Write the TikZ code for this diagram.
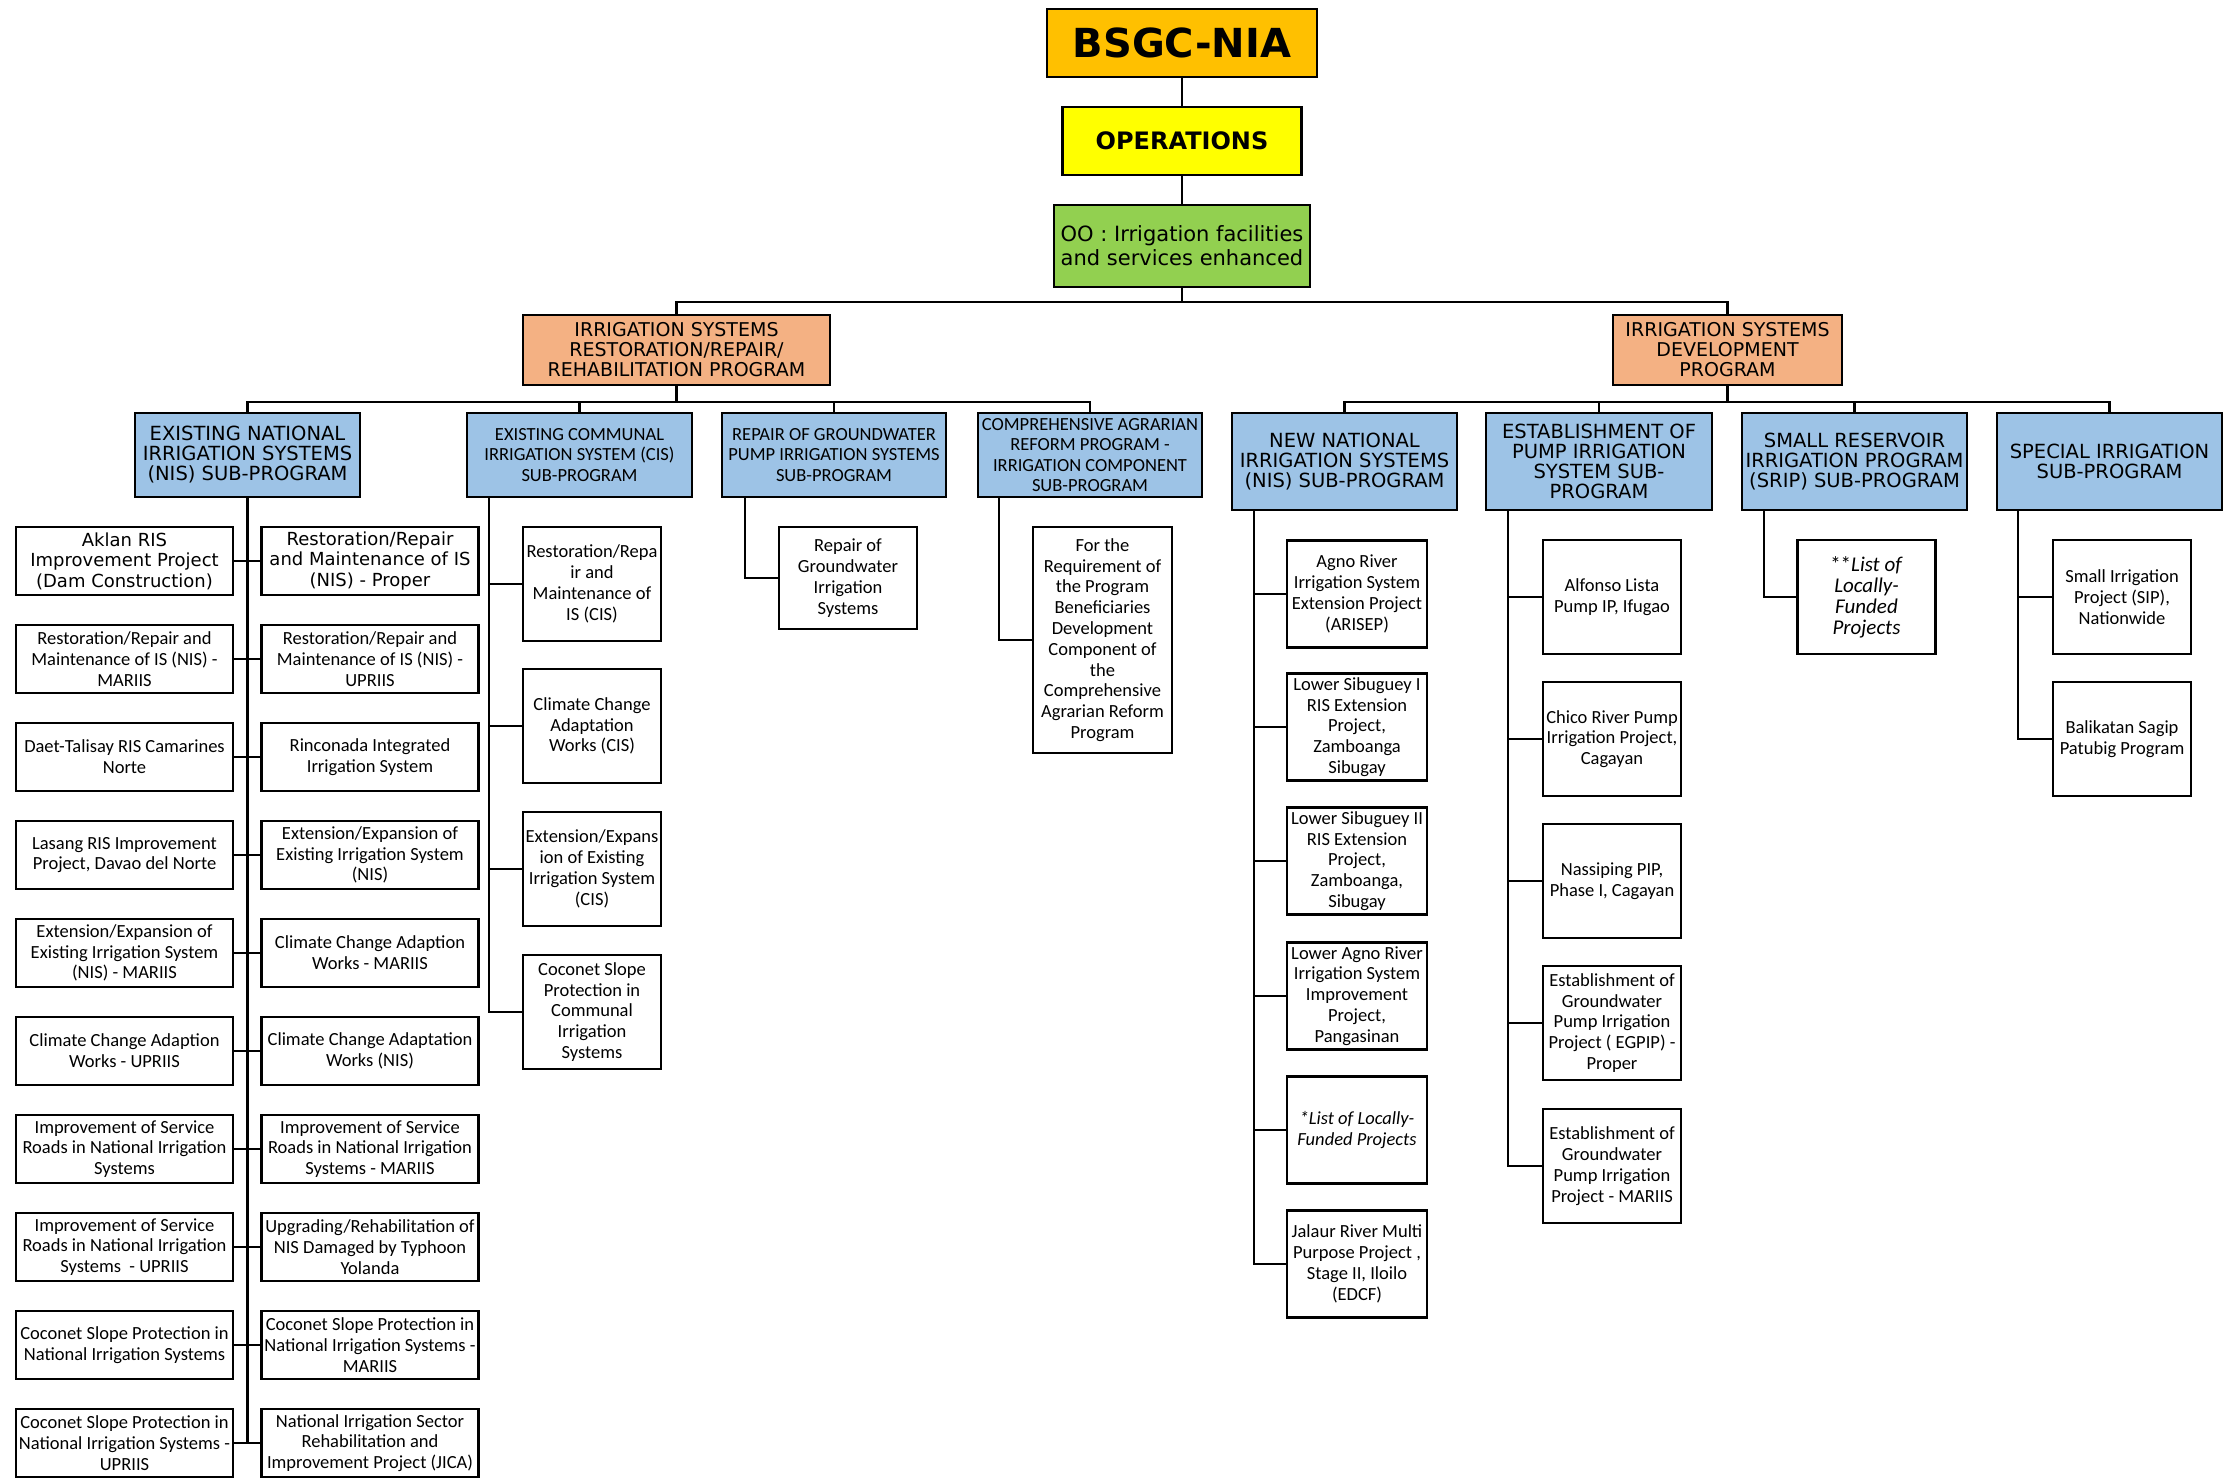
\documentclass[tikz,border=0pt]{standalone}
\usepackage{fontspec}
\setmainfont{Carlito}
\newfontfamily\verdana{DejaVu Sans}
\usetikzlibrary{positioning, calc}

\definecolor{gold}{HTML}{FFC000}
\definecolor{opsyellow}{HTML}{FFFF00}
\definecolor{oogreen}{HTML}{92D050}
\definecolor{peach}{HTML}{F4B183}
\definecolor{skyblue}{HTML}{9DC3E6}

\begin{document}
\begin{tikzpicture}[x=1pt, y=-1pt, every node/.style={draw, line width=2.4pt, inner sep=0pt, align=center}]

        % styles
        \tikzstyle{leaf}=[fill=white, font=\fontsize{18.5}{20.8}\selectfont]
        \tikzstyle{vleaf}=[fill=white, font=\verdana\fontsize{18}{20.6}\selectfont]
        \tikzstyle{subprog}=[fill=skyblue, font=\fontsize{18.5}{20.5}\selectfont]
        \tikzstyle{vsubprog}=[fill=skyblue, font=\verdana\fontsize{19.5}{20}\selectfont]
        \tikzstyle{prog}=[fill=peach, font=\verdana\fontsize{19}{20}\selectfont]
        \tikzstyle{nisbox}=[minimum width=217pt, minimum height=68pt]
        \tikzstyle{tallbox}=[minimum width=138pt, minimum height=114pt]
        \tikzstyle{nnisbox}=[minimum width=140pt, minimum height=107pt]
        \tikzstyle{link}=[line width=2.4pt]
        \tikzstyle{toplink}=[line width=1.8pt]

        \useasboundingbox (0,0) rectangle (2228,1479);

        % top
        \node[fill=gold, minimum width=270pt, minimum height=68pt, font=\verdana\bfseries\fontsize{40}{44}\selectfont] (bsgc) at (1182,43) {BSGC-NIA};
        \node[fill=opsyellow, minimum width=239pt, minimum height=68pt, font=\verdana\bfseries\fontsize{24}{28}\selectfont] (ops) at (1182,141) {OPERATIONS};
        \node[fill=oogreen, minimum width=256pt, minimum height=82pt, font=\verdana\fontsize{21}{24}\selectfont] (oo) at (1182,246) {OO : Irrigation facilities\\and services enhanced};

        \draw[toplink] (bsgc.south) -- (ops.north);
        \draw[toplink] (ops.south) -- (oo.north);

        % programs
        \node[prog, minimum width=307pt, minimum height=70pt] (restprog) at (676.5,350) {IRRIGATION SYSTEMS\\RESTORATION/REPAIR/\\REHABILITATION PROGRAM};
        \node[prog, minimum width=229pt, minimum height=70pt] (devprog) at (1727.5,350) {IRRIGATION SYSTEMS\\DEVELOPMENT\\PROGRAM};

        \draw[link] (oo.south) -- ++(0,14) -| (restprog.north);
        \draw[link] (oo.south) -- ++(0,14) -| (devprog.north);

        % sub-programs (restoration)
        \node[vsubprog, minimum width=225pt, minimum height=84pt] (nis) at (247.5,455) {EXISTING NATIONAL\\IRRIGATION SYSTEMS\\(NIS) SUB-PROGRAM};
        \node[subprog, minimum width=225pt, minimum height=84pt] (cis) at (579.5,455) {EXISTING COMMUNAL\\IRRIGATION SYSTEM (CIS)\\SUB-PROGRAM};
        \node[subprog, minimum width=224pt, minimum height=84pt] (gw) at (834,455) {REPAIR OF GROUNDWATER\\PUMP IRRIGATION SYSTEMS\\SUB-PROGRAM};
        \node[subprog, minimum width=224pt, minimum height=84pt] (carp) at (1090,455) {COMPREHENSIVE AGRARIAN\\REFORM PROGRAM -\\IRRIGATION COMPONENT\\SUB-PROGRAM};

        \draw[link] (restprog.south) -- ++(0,16) -| (nis.north);
        \draw[link] (restprog.south) -- ++(0,16) -| (cis.north);
        \draw[link] (restprog.south) -- ++(0,16) -| (gw.north);
        \draw[link] (restprog.south) -- ++(0,16) -| (carp.north);

        % sub-programs (development)
        \node[vsubprog, minimum width=225pt, minimum height=97pt] (nnis) at (1344.5,461.5) {NEW NATIONAL\\IRRIGATION SYSTEMS\\(NIS) SUB-PROGRAM};
        \node[vsubprog, minimum width=226pt, minimum height=97pt] (pump) at (1599,461.5) {ESTABLISHMENT OF\\PUMP IRRIGATION\\SYSTEM SUB-\\PROGRAM};
        \node[vsubprog, minimum width=225pt, minimum height=97pt] (srip) at (1854.5,461.5) {SMALL RESERVOIR\\IRRIGATION PROGRAM\\(SRIP) SUB-PROGRAM};
        \node[vsubprog, minimum width=225pt, minimum height=97pt] (sip) at (2109.5,461.5) {SPECIAL IRRIGATION\\SUB-PROGRAM};

        \draw[link] (devprog.south) -- ++(0,16) -| (nnis.north);
        \draw[link] (devprog.south) -- ++(0,16) -| (pump.north);
        \draw[link] (devprog.south) -- ++(0,16) -| (srip.north);
        \draw[link] (devprog.south) -- ++(0,16) -| (sip.north);

        % existing NIS, left column
        \node[vleaf, nisbox] (nl1) at (124.5,561) {Aklan RIS\\Improvement Project\\(Dam Construction)};
        \node[leaf, nisbox] (nl2) at (124.5,659) {Restoration/Repair and\\Maintenance of IS (NIS) -\\MARIIS};
        \node[leaf, nisbox] (nl3) at (124.5,757) {Daet-Talisay RIS Camarines\\Norte};
        \node[leaf, nisbox] (nl4) at (124.5,855) {Lasang RIS Improvement\\Project, Davao del Norte};
        \node[leaf, nisbox] (nl5) at (124.5,953) {Extension/Expansion of\\Existing Irrigation System\\(NIS) - MARIIS};
        \node[leaf, nisbox] (nl6) at (124.5,1051) {Climate Change Adaption\\Works - UPRIIS};
        \node[leaf, nisbox] (nl7) at (124.5,1149) {Improvement of Service\\Roads in National Irrigation\\Systems};
        \node[leaf, nisbox] (nl8) at (124.5,1247) {Improvement of Service\\Roads in National Irrigation\\Systems\ \ - UPRIIS};
        \node[leaf, nisbox] (nl9) at (124.5,1345) {Coconet Slope Protection in\\National Irrigation Systems};
        \node[leaf, nisbox] (nl10) at (124.5,1443) {Coconet Slope Protection in\\National Irrigation Systems -\\UPRIIS};

        % existing NIS, right column
        \node[vleaf, nisbox] (nr1) at (370,561) {Restoration/Repair\\and Maintenance of IS\\(NIS) - Proper};
        \node[leaf, nisbox] (nr2) at (370,659) {Restoration/Repair and\\Maintenance of IS (NIS) -\\UPRIIS};
        \node[leaf, nisbox] (nr3) at (370,757) {Rinconada Integrated\\Irrigation System};
        \node[leaf, nisbox] (nr4) at (370,855) {Extension/Expansion of\\Existing Irrigation System\\(NIS)};
        \node[leaf, nisbox] (nr5) at (370,953) {Climate Change Adaption\\Works - MARIIS};
        \node[leaf, nisbox] (nr6) at (370,1051) {Climate Change Adaptation\\Works (NIS)};
        \node[leaf, nisbox] (nr7) at (370,1149) {Improvement of Service\\Roads in National Irrigation\\Systems - MARIIS};
        \node[leaf, nisbox] (nr8) at (370,1247) {Upgrading/Rehabilitation of\\NIS Damaged by Typhoon\\Yolanda};
        \node[leaf, nisbox] (nr9) at (370,1345) {Coconet Slope Protection in\\National Irrigation Systems -\\MARIIS};
        \node[leaf, nisbox] (nr10) at (370,1443) {National Irrigation Sector\\Rehabilitation and\\Improvement Project (JICA)};

        \draw[link] (nis.south) -- (nis.south |- nl10.east);
        \draw[link] (nl1.east) -- (nr1.west);
        \draw[link] (nl2.east) -- (nr2.west);
        \draw[link] (nl3.east) -- (nr3.west);
        \draw[link] (nl4.east) -- (nr4.west);
        \draw[link] (nl5.east) -- (nr5.west);
        \draw[link] (nl6.east) -- (nr6.west);
        \draw[link] (nl7.east) -- (nr7.west);
        \draw[link] (nl8.east) -- (nr8.west);
        \draw[link] (nl9.east) -- (nr9.west);
        \draw[link] (nl10.east) -- (nr10.west);

        % existing CIS
        \node[leaf, tallbox] (cis1) at (592,584) {Restoration/Repa\\ir and\\Maintenance of\\IS (CIS)};
        \node[leaf, tallbox] (cis2) at (592,726) {Climate Change\\Adaptation\\Works (CIS)};
        \node[leaf, tallbox] (cis3) at (592,869) {Extension/Expans\\ion of Existing\\Irrigation System\\(CIS)};
        \node[leaf, tallbox] (cis4) at (592,1012) {Coconet Slope\\Protection in\\Communal\\Irrigation\\Systems};

        \draw[link] ([xshift=23pt]cis.south west) |- (cis1.west);
        \draw[link] ([xshift=23pt]cis.south west) |- (cis2.west);
        \draw[link] ([xshift=23pt]cis.south west) |- (cis3.west);
        \draw[link] ([xshift=23pt]cis.south west) |- (cis4.west);

        % groundwater, CARP
        \node[leaf, minimum width=138pt, minimum height=102pt] (gw1) at (848,578) {Repair of\\Groundwater\\Irrigation\\Systems};
        \node[leaf, minimum width=139pt, minimum height=226pt] (carp1) at (1102.5,640) {For the\\Requirement of\\the Program\\Beneficiaries\\Development\\Component of\\the\\Comprehensive\\Agrarian Reform\\Program};

        \draw[link] ([xshift=24pt]gw.south west) |- (gw1.west);
        \draw[link] ([xshift=22pt]carp.south west) |- (carp1.west);

        % new NIS
        \node[leaf, nnisbox] (nn1) at (1357,594) {Agno River\\Irrigation System\\Extension Project\\(ARISEP)};
        \node[leaf, nnisbox] (nn2) at (1357,727) {Lower Sibuguey I\\RIS Extension\\Project,\\Zamboanga\\Sibugay};
        \node[leaf, nnisbox] (nn3) at (1357,861) {Lower Sibuguey II\\RIS Extension\\Project,\\Zamboanga,\\Sibugay};
        \node[leaf, nnisbox] (nn4) at (1357,996) {Lower Agno River\\Irrigation System\\Improvement\\Project,\\Pangasinan};
        \node[leaf, nnisbox] (nn5) at (1357,1130) {\textit{*List of Locally-}\\\textit{Funded Projects}};
        \node[leaf, nnisbox] (nn6) at (1357,1264) {Jalaur River Multi\\Purpose Project ,\\Stage II, Iloilo\\(EDCF)};

        \draw[link] ([xshift=23pt]nnis.south west) |- (nn1.west);
        \draw[link] ([xshift=23pt]nnis.south west) |- (nn2.west);
        \draw[link] ([xshift=23pt]nnis.south west) |- (nn3.west);
        \draw[link] ([xshift=23pt]nnis.south west) |- (nn4.west);
        \draw[link] ([xshift=23pt]nnis.south west) |- (nn5.west);
        \draw[link] ([xshift=23pt]nnis.south west) |- (nn6.west);

        % pump irrigation
        \node[leaf, tallbox] (pp1) at (1612,597) {Alfonso Lista\\Pump IP, Ifugao};
        \node[leaf, tallbox] (pp2) at (1612,739) {Chico River Pump\\Irrigation Project,\\Cagayan};
        \node[leaf, tallbox] (pp3) at (1612,881) {Nassiping PIP,\\Phase I, Cagayan};
        \node[leaf, tallbox] (pp4) at (1612,1023) {Establishment of\\Groundwater\\Pump Irrigation\\Project ( EGPIP) -\\Proper};
        \node[leaf, tallbox] (pp5) at (1612,1166) {Establishment of\\Groundwater\\Pump Irrigation\\Project - MARIIS};

        \draw[link] ([xshift=23pt]pump.south west) |- (pp1.west);
        \draw[link] ([xshift=23pt]pump.south west) |- (pp2.west);
        \draw[link] ([xshift=23pt]pump.south west) |- (pp3.west);
        \draw[link] ([xshift=23pt]pump.south west) |- (pp4.west);
        \draw[link] ([xshift=23pt]pump.south west) |- (pp5.west);

        % SRIP, special
        \node[leaf, tallbox, font=\fontsize{21}{21}\selectfont] (sr1) at (1866.5,597) {**\textit{List of}\\\textit{Locally-}\\\textit{Funded}\\\textit{Projects}};
        \node[leaf, tallbox] (sp1) at (2122,597) {Small Irrigation\\Project (SIP),\\Nationwide};
        \node[leaf, tallbox] (sp2) at (2122,739) {Balikatan Sagip\\Patubig Program};

        \draw[link] ([xshift=23pt]srip.south west) |- (sr1.west);
        \draw[link] ([xshift=22pt]sip.south west) |- (sp1.west);
        \draw[link] ([xshift=22pt]sip.south west) |- (sp2.west);
        \end{tikzpicture}
\end{document}
